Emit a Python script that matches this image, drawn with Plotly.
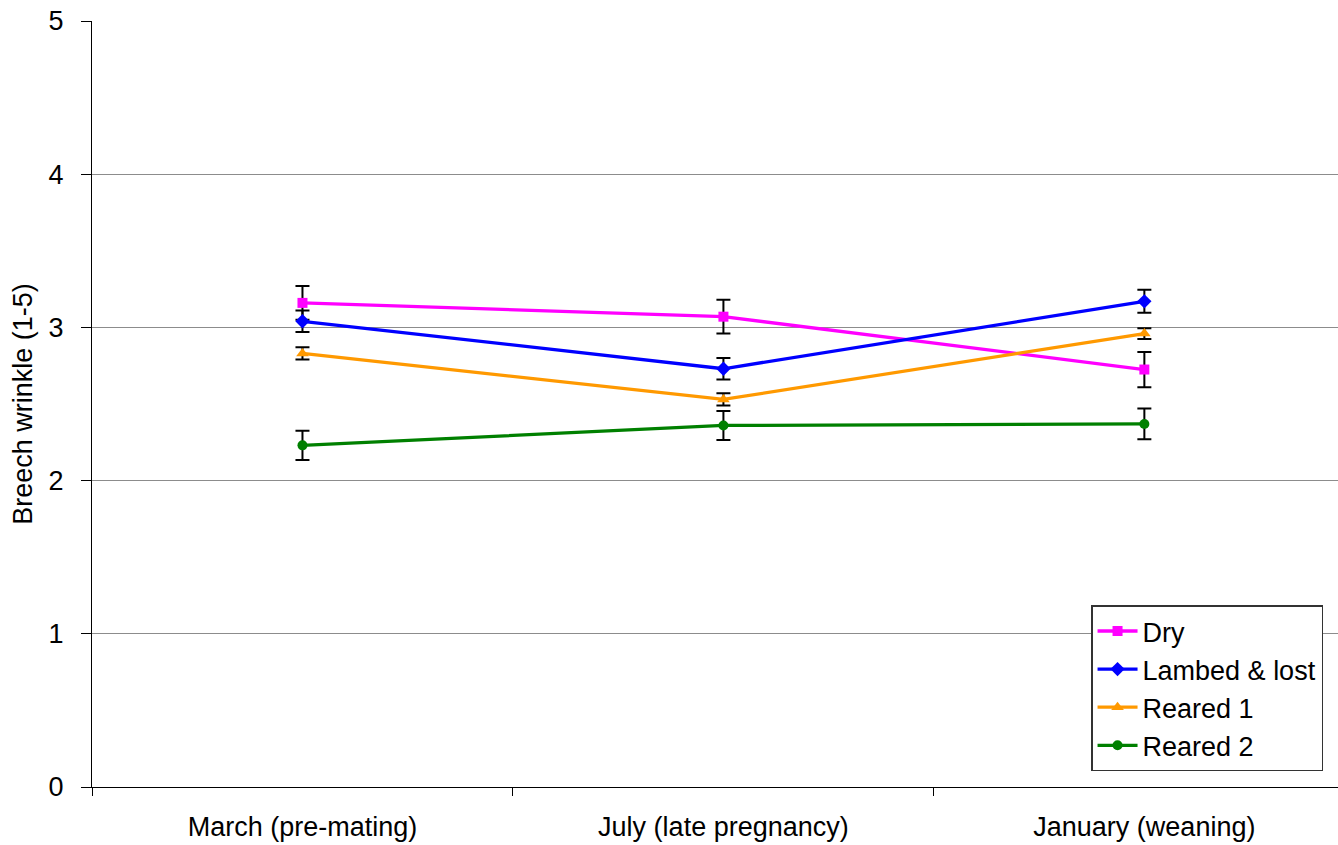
import plotly.graph_objects as go

periods = ["March (pre-mating)", "July (late pregnancy)", "January (weaning)"]

dry = [3.16, 3.07, 2.725]
dry_err = [0.11, 0.11, 0.115]

lambed_lost = [3.04, 2.73, 3.17]
lambed_lost_err = [0.07, 0.07, 0.075]

reared_1 = [2.83, 2.53, 2.96]
reared_1_err = [0.04, 0.04, 0.035]

reared_2 = [2.23, 2.36, 2.37]
reared_2_err = [0.095, 0.095, 0.10]

series = [
    ("Dry", dry, dry_err, "#FF00FF", "square", 10),
    ("Lambed & lost", lambed_lost, lambed_lost_err, "#0000FF", "diamond", 11),
    ("Reared 1", reared_1, reared_1_err, "#FF9900", "triangle-up", 11),
    ("Reared 2", reared_2, reared_2_err, "#008000", "circle", 10),
]

fig = go.Figure()
for name, vals, errs, color, symbol, size in series:
    fig.add_trace(go.Scatter(
        x=periods, y=vals, name=name, mode="lines+markers",
        line=dict(color=color, width=3.3),
        marker=dict(symbol=symbol, size=size, color=color),
        error_y=dict(type="data", array=errs, visible=True,
                     color="black", thickness=2, width=7),
    ))

font = "Liberation Sans, Arial, sans-serif"
fig.update_layout(
    width=1338, height=845,
    margin=dict(l=92, r=0, t=21, b=58),
    plot_bgcolor="white", paper_bgcolor="white",
    font=dict(family=font, size=27, color="black"),
    showlegend=True,
    legend=dict(
        x=0.8018, y=0.237, xanchor="left", yanchor="top",
        bordercolor="#333333", borderwidth=1.5, bgcolor="white",
        font=dict(size=27, family=font),
        tracegroupgap=0, itemwidth=40,
    ),
    xaxis=dict(
        type="category", range=[-0.5, 2.46],
        tickson="boundaries", ticks="outside", ticklen=8, tickcolor="black",
        showgrid=False, showline=True, linecolor="black", linewidth=1.2,
        zeroline=False, ticklabelstandoff=15,
        tickfont=dict(size=27),
    ),
    yaxis=dict(
        range=[0, 5], tickvals=[0, 1, 2, 3, 4, 5],
        ticks="outside", ticklen=10, tickcolor="black",
        showgrid=True, gridcolor="#8c8c8c", gridwidth=1,
        showline=True, linecolor="black", linewidth=1.2,
        zeroline=False, ticklabelstandoff=12,
        tickfont=dict(size=27),
        title=dict(text="Breech wrinkle (1-5)", font=dict(size=27), standoff=8),
    ),
)

fig.write_html("out.html")
